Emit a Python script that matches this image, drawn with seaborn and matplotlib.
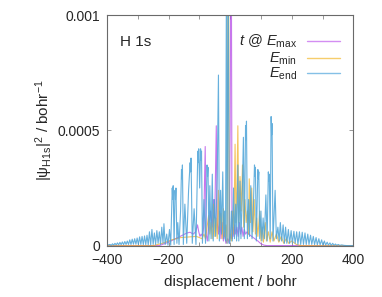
import matplotlib
matplotlib.use("Agg")
import matplotlib.pyplot as plt
import seaborn as sns
from matplotlib.lines import Line2D
from matplotlib.ticker import FixedLocator, FixedFormatter

# values as (displacement, density) vertices, density in 1e-4 / bohr
blue_pts = [
    (-400, 0.02), (-390, 0.05), (-386, 0.01), (-382, 0.08), (-378, 0.02), (-374, 0.10), (-370, 0.03),
    (-366, 0.12), (-362, 0.03), (-358, 0.14), (-354, 0.04), (-350, 0.16), (-346, 0.04), (-342, 0.18),
    (-338, 0.05), (-334, 0.20), (-330, 0.05), (-326, 0.25), (-322, 0.05), (-318, 0.28), (-314, 0.06),
    (-310, 0.30), (-306, 0.06), (-302, 0.33), (-298, 0.05), (-294, 0.38), (-290, 0.05), (-286, 0.40),
    (-282, 0.04), (-278, 0.42), (-274, 0.04), (-270, 0.45), (-266, 0.03), (-262, 0.60), (-258, 0.03),
    (-254, 0.70), (-250, 0.05), (-246, 0.55), (-242, 0.05), (-238, 0.65), (-234, 0.10), (-230, 0.60),
    (-226, 0.05), (-222, 0.80), (-218, 0.10), (-215, 0.95), (-211, 0.05), (-206, 0.50), (-202, 0.02),
    (-197, 0.70), (-193, 0.02), (-188, 2.50), (-186.5, 2.00), (-185, 2.60), (-182, 0.05),
    (-179, 2.40), (-177.5, 2.00), (-176, 2.50), (-173, 0.10), (-170, 1.00), (-166, 0.05),
    (-161, 1.50), (-158, 3.30), (-156.5, 2.90), (-155, 3.50), (-152, 0.05), (-147, 1.80), (-141, 0.10),
    (-135, 2.40), (-130, 3.60), (-128.5, 3.20), (-127, 3.80), (-123, 0.10), (-117, 1.60), (-111, 0.05),
    (-105, 4.10), (-103.5, 3.60), (-102, 4.20), (-99, 2.50), (-96, 4.20), (-94.5, 3.70), (-93, 4.10),
    (-90, 0.10), (-85, 2.00), (-80, 0.10), (-75, 3.50), (-73.5, 3.00), (-72, 3.40), (-69, 0.20),
    (-66, 2.60), (-62, 0.30), (-58, 3.10), (-55, 0.20), (-51, 2.00), (-47, 0.40), (-42, 3.00),
    (-38, 7.40), (-35, 0.20), (-31, 2.40), (-28, 0.50), (-24, 3.20), (-21, 0.30), (-18, 1.50),
    (-15, 0.20), (-12, 12.0), (-10, 0.10), (-6, 12.0), (-3, 0.10),
    (0, 0.20), (4, 1.50), (7, 0.20), (11, 2.50), (14, 0.30), (18, 1.80), (21, 0.20), (25, 3.50),
    (28, 0.20), (32, 2.80), (35, 0.30), (39, 2.00), (43, 4.70), (46, 0.30), (50, 5.20), (51.5, 4.60),
    (53, 5.40), (56, 0.30), (60, 2.00), (63, 0.40), (67, 2.60), (71, 0.30), (75, 1.50), (79, 3.50),
    (80.5, 3.00), (82, 3.40), (85, 0.20), (88, 2.00), (90, 3.30), (91.5, 2.90), (93, 3.20), (96, 0.30),
    (100, 1.50), (103, 0.20), (107, 1.20), (111, 0.30), (116, 2.20), (120, 0.20), (124, 3.20),
    (125.5, 2.80), (127, 3.10), (130, 0.30), (133, 5.60), (134.5, 4.80), (136, 5.30), (139, 0.20),
    (143, 1.50), (146, 2.40), (150, 0.30), (155, 0.80), (159, 0.20), (163, 1.00), (167, 0.20),
    (172, 0.90), (176, 0.10), (180, 0.80), (184, 0.10), (189, 0.70), (193, 0.10), (198, 0.65),
    (202, 0.10), (207, 0.62), (211, 0.10), (216, 0.60), (220, 0.05), (225, 0.60), (229, 0.05),
    (234, 0.58), (238, 0.05), (243, 0.55), (247, 0.05), (252, 0.50), (256, 0.05), (261, 0.45),
    (265, 0.05), (270, 0.40), (274, 0.04), (279, 0.35), (283, 0.03), (288, 0.30), (292, 0.03),
    (297, 0.25), (301, 0.02), (306, 0.20), (310, 0.02), (315, 0.15), (319, 0.02), (324, 0.12),
    (328, 0.01), (333, 0.10), (337, 0.01), (342, 0.07), (346, 0.01), (351, 0.05), (356, 0.01),
    (362, 0.03), (370, 0.01), (380, 0.00), (400, 0.00),
]

purple_pts = [
    (-400, 0.00), (-230, 0.00), (-200, 0.15), (-170, 0.35), (-140, 0.55), (-130, 0.58), (-120, 0.50),
    (-112, 0.60), (-106, 0.90), (-102, 0.60), (-98, 0.40), (-94, 0.50), (-90, 0.40), (-86, 0.80),
    (-81, 4.30), (-78, 0.50), (-74, 0.20), (-70, 0.80), (-64, 1.50), (-58, 0.80), (-54, 2.00),
    (-50, 1.20), (-45, 5.20), (-42, 1.00), (-38, 0.50), (-34, 1.50), (-30, 0.30), (-26, 1.00),
    (-22, 0.20), (-18, 0.60), (-14, 0.10), (-8, 0.30), (-3, 0.10), (0, 5.00), (2, 12.0), (4, 12.0),
    (6, 0.30), (9, 0.80), (12, 0.40), (15, 0.90), (18, 0.50), (22, 0.80), (26, 0.40), (30, 1.00),
    (34, 0.50), (38, 0.80), (42, 0.40), (46, 0.70), (50, 0.50), (55, 0.60), (60, 0.50), (70, 0.40),
    (80, 0.30), (90, 0.20), (100, 0.08), (110, 0.02), (120, 0.00), (400, 0.00),
]

orange_pts = [
    (-400, 0.00), (-250, 0.00), (-220, 0.10), (-190, 0.25), (-160, 0.35), (-130, 0.38), (-110, 0.40),
    (-100, 0.35), (-92, 0.30), (-85, 0.50), (-80, 0.30), (-75, 0.80), (-70, 1.30), (-66, 0.50),
    (-62, 1.00), (-58, 0.30), (-54, 1.80), (-50, 0.40), (-46, 1.20), (-42, 0.30), (-38, 2.40),
    (-35, 0.60), (-30, 1.40), (-26, 0.30), (-22, 1.60), (-18, 0.40), (-14, 0.90), (-10, 0.10),
    (-7, 12.0), (-5, 12.0), (-3, 0.20), (0, 0.50), (4, 0.20), (8, 1.50), (12, 0.50), (16, 4.40),
    (19, 1.00), (22, 2.50), (25, 5.20), (28, 1.00), (32, 3.00), (36, 1.50), (40, 3.50), (44, 0.80),
    (48, 2.00), (52, 1.00), (56, 1.50), (60, 0.50), (62, 2.90), (66, 1.00), (70, 2.50), (74, 0.60),
    (78, 2.00), (82, 0.50), (86, 1.20), (90, 0.40), (96, 1.50), (100, 0.20), (104, 0.80), (108, 0.15),
    (114, 1.00), (118, 0.20), (124, 0.60), (130, 0.15), (136, 0.60), (142, 0.20), (150, 0.50),
    (158, 0.15), (166, 0.40), (174, 0.10), (182, 0.30), (190, 0.10), (200, 0.20), (215, 0.05),
    (230, 0.00), (400, 0.00),
]

x_ticks = [-400, -200, 0, 200, 400]
x_tick_labels = ["\u2212400", "\u2212200", "0", "200", "400"]
x_minor = [-300, -100, 100, 300]
y_ticks = [0, 5, 10]
y_tick_labels = ["0", "0.0005", "0.001"]
legend_labels = [r"$t$ @ $E_{\rm max}$", r"$E_{\rm min}$", r"$E_{\rm end}$"]

sns.set_style("ticks")
plt.rcParams["font.family"] = ["Liberation Sans", "DejaVu Sans"]
plt.rcParams["mathtext.fontset"] = "custom"
plt.rcParams["mathtext.rm"] = "Liberation Sans"
plt.rcParams["mathtext.it"] = "Liberation Sans:italic"

purple = "#b54ae6"
orange = "#f2b22a"
blue = "#4ba3d8"

fig = plt.figure(figsize=(3.82, 2.97), dpi=100)
ax = fig.add_axes([0.280, 0.173, 0.645, 0.776])

for pts, c, a in [(purple_pts, purple, 0.75), (orange_pts, orange, 0.75), (blue_pts, blue, 0.85)]:
    xs = [p[0] for p in pts]
    ys = [p[1] for p in pts]
    sns.lineplot(x=xs, y=ys, ax=ax, color=c, lw=0.8, alpha=a, estimator=None)

ax.set_xlim(-400, 400)
ax.set_ylim(0, 10)
ax.xaxis.set_major_locator(FixedLocator(x_ticks))
ax.xaxis.set_major_formatter(FixedFormatter(x_tick_labels))
ax.xaxis.set_minor_locator(FixedLocator(x_minor))
ax.yaxis.set_major_locator(FixedLocator(y_ticks))
ax.yaxis.set_major_formatter(FixedFormatter(y_tick_labels))
ax.tick_params(which="both", direction="in", length=3, width=0.6, color="#888888",
               top=True, right=True, labelsize=10, pad=5)
for s in ax.spines.values():
    s.set_color("#6a6a6a")
    s.set_linewidth(0.8)

ax.set_xlabel("displacement / bohr", fontsize=11, labelpad=6)
ax.set_ylabel("|\u03c8$_{\\rm H1s}$|$^2$ / bohr$^{-1}$", fontsize=11, labelpad=2)

ax.text(0.053, 0.866, "H 1s", transform=ax.transAxes, fontsize=11, ha="left", va="baseline")

# legend drawn by hand so the labels sit right-aligned like the original
leg_colors = ["#d38ef2", "#f6cd6c", "#84c0e6"]
text_y = [0.866, 0.794, 0.729]
line_y = [0.888, 0.814, 0.747]
for lab, c, ty, ly in zip(legend_labels, leg_colors, text_y, line_y):
    ax.text(0.770, ty, lab, transform=ax.transAxes, fontsize=10.5, ha="right", va="baseline")
    ax.add_line(Line2D([0.811, 0.945], [ly, ly], transform=ax.transAxes, color=c, lw=1.0))

fig.savefig("out.png", dpi=100)
